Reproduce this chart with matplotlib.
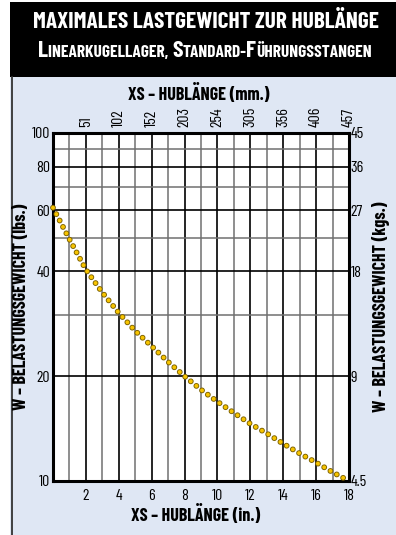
import matplotlib
matplotlib.use("Agg")
import matplotlib.pyplot as plt
from matplotlib.patches import Rectangle
from matplotlib.lines import Line2D

plt.rcParams["lines.scale_dashes"] = False
NARROW = ["Barlow Condensed", "Roboto Condensed", "Liberation Sans Narrow", "DejaVu Sans"]

# data
stroke_in = [0, 1, 2, 3, 4, 5, 6, 7, 8, 9, 10, 11, 12, 13, 14, 15, 16, 17, 18]
load_lbs = [61.0, 49.5, 40.5, 34.8, 30.4, 27.0, 24.4, 22.0, 20.0, 18.3,
            16.9, 15.7, 14.6, 13.7, 12.8, 12.0, 11.3, 10.6, 10.0]

in_ticks = [2, 4, 6, 8, 10, 12, 14, 16, 18]
mm_labels = ["51", "102", "152", "203", "254", "305", "356", "406", "457"]
lbs_ticks = [10, 20, 40, 60, 80, 100]
lbs_labels = ["10", "20", "40", "60", "80", "100"]
kgs_labels = ["4.5", "9", "18", "27", "36", "45"]
lbs_minor = [30, 50, 70, 90]
in_minor = [1, 3, 5, 7, 9, 11, 13, 15, 17]

fig = plt.figure(figsize=(3.96, 5.35), dpi=100)
fig.patch.set_facecolor("white")

# background panels
fig.patches.append(Rectangle((10 / 396, 0), 1, 1 - 77 / 535, transform=fig.transFigure,
                             facecolor="#dfe7f4", edgecolor="none", zorder=-10))
fig.patches.append(Rectangle((10 / 396, 1 - 77 / 535), 1, 75 / 535, transform=fig.transFigure,
                             facecolor="black", edgecolor="none", zorder=-10))
fig.lines.append(Line2D([12 / 396, 12 / 396], [0, 1 - 77 / 535], transform=fig.transFigure,
                        color="#333333", lw=1.3, zorder=-9))

ax = fig.add_axes([53 / 396, 1 - 481 / 535, 296 / 396, 348 / 535])
ax.set_facecolor("white")
ax.set_yscale("log")
ax.set_xlim(0, 18)
ax.set_ylim(10, 100)

ax.set_xticks([0] + in_ticks)
ax.set_xticklabels([""] + [str(t) for t in in_ticks])
ax.set_xticks(in_minor, minor=True)
ax.set_yticks(lbs_ticks)
ax.set_yticklabels(lbs_labels)
ax.set_yticks(lbs_minor, minor=True)
ax.yaxis.set_minor_formatter(plt.NullFormatter())
ax.grid(True, which="major", color="black", lw=1.2)
ax.grid(True, which="minor", color="#707070", lw=1.1)
ax.tick_params(which="both", length=0)
ax.tick_params(axis="x", pad=6)
ax.tick_params(axis="y", pad=2)
for lab in ax.get_xticklabels() + ax.get_yticklabels():
    lab.set_family(NARROW)
    lab.set_fontsize(11.5)
for s in ax.spines.values():
    s.set_linewidth(2.2)
    s.set_zorder(3)

# top axis in mm
axt = ax.twiny()
axt.set_xlim(0, 18)
axt.set_xticks(in_ticks)
axt.set_xticklabels(mm_labels, rotation=90, family=NARROW, fontsize=11.5)
axt.tick_params(length=0, pad=4)

# right axis in kgs
axr = ax.twinx()
axr.set_yscale("log")
axr.set_ylim(10, 100)
axr.set_yticks(lbs_ticks)
axr.set_yticklabels(kgs_labels, family=NARROW, fontsize=11.5)
axr.yaxis.set_minor_formatter(plt.NullFormatter())
axr.tick_params(which="both", length=0, pad=1)
for a in (axt, axr):
    for s in a.spines.values():
        s.set_visible(False)

# dotted load curve
ax.plot(stroke_in, load_lbs, color="#7a5f00", lw=4.2, linestyle=(0, (0.001, 5.2)),
        dash_capstyle="round", clip_on=False, zorder=5)
ax.plot(stroke_in, load_lbs, color="#f7c400", lw=2.9, linestyle=(0, (0.001, 5.2)),
        dash_capstyle="round", clip_on=False, zorder=6)

# axis titles
fig.text(199 / 396, 1 - 94 / 535, "XS – HUBLÄNGE (mm.)", ha="center", va="center",
         family=NARROW, fontweight="bold", fontsize=13)
fig.text(196 / 396, 1 - 515 / 535, "XS – HUBLÄNGE (in.)", ha="center", va="center",
         family=NARROW, fontweight="bold", fontsize=13)
fig.text(22 / 396, 1 - 307 / 535, "W – BELASTUNGSGEWICHT (lbs.)", ha="center", va="center",
         rotation=90, family=NARROW, fontweight="bold", fontsize=13)
fig.text(381 / 396, 1 - 307 / 535, "W – BELASTUNGSGEWICHT (kgs.)", ha="center", va="center",
         rotation=90, family=NARROW, fontweight="bold", fontsize=13)

# title
fig.text(206 / 396, 1 - 22 / 535, "MAXIMALES LASTGEWICHT ZUR HUBLÄNGE", ha="center", va="center",
         color="white", family=NARROW, fontweight="bold", fontsize=16.8)

# subtitle in small caps, pieces laid out one after another
pieces = [("L", 17), ("INEARKUGELLAGER, ", 12.5), ("S", 17), ("TANDARD-", 12.5),
          ("F", 17), ("ÜHRUNGSSTANGEN", 12.5)]
renderer = fig.canvas.get_renderer()
texts = []
total = 0
for txt, size in pieces:
    t = fig.text(0, 1 - 57 / 535, txt, ha="left", va="baseline", color="white",
                 family=NARROW, fontweight="bold", fontsize=size)
    w = t.get_window_extent(renderer).width
    texts.append((t, w))
    total += w
x0 = 205 - total / 2
for t, w in texts:
    t.set_x(x0 / 396)
    x0 += w

fig.savefig("out.png", dpi=100)
